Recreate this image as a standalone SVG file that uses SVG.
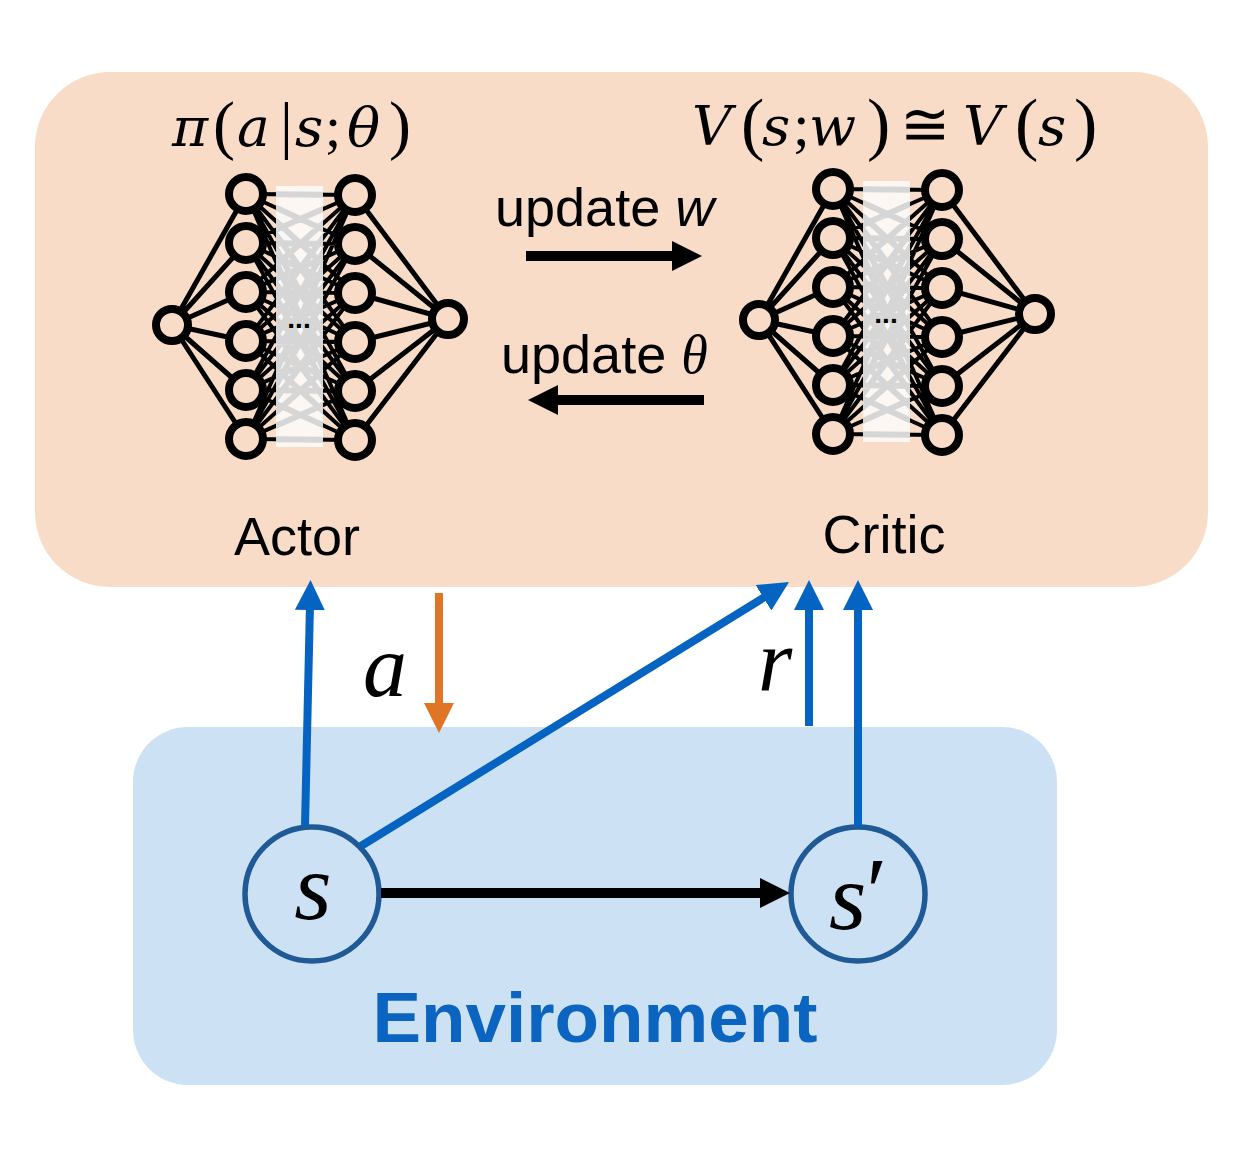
<svg xmlns="http://www.w3.org/2000/svg" xmlns:xlink="http://www.w3.org/1999/xlink" width="1255" height="1155" viewBox="0 0 1255 1155">
<style>
.sans{font-family:"Liberation Sans",Arial,sans-serif;}
.math{font-family:"Liberation Serif","DejaVu Serif",serif;font-style:italic;}
.mi{font-family:"DejaVu Serif",serif;font-style:italic;}
.mp{font-family:"Liberation Serif",serif;font-style:normal;}
.up{font-style:normal;}
.blk{stroke:#000;stroke-width:5;fill:none;}
.nn{fill:#F8DCC7;stroke:#000;stroke-width:8;}
.blue{stroke:#0563C1;stroke-width:8;fill:none;}
.orng{stroke:#E07427;stroke-width:8;fill:none;}
.arr{stroke:#000;stroke-width:10;fill:none;}
.state{fill:#CCE2F4;stroke:#1F5A96;stroke-width:5.5;}
</style>
<defs>
<marker id="mb" markerUnits="userSpaceOnUse" markerWidth="30" markerHeight="30" viewBox="0 0 30 30" refX="6" refY="15" orient="auto"><path d="M0,0L30,15L0,30z" fill="#0563C1"/></marker>
<marker id="mo" markerUnits="userSpaceOnUse" markerWidth="30" markerHeight="30" viewBox="0 0 30 30" refX="6" refY="15" orient="auto"><path d="M0,0L30,15L0,30z" fill="#E07427"/></marker>
<marker id="mk" markerUnits="userSpaceOnUse" markerWidth="30" markerHeight="30" viewBox="0 0 30 30" refX="6" refY="15" orient="auto"><path d="M0,0L30,15L0,30z" fill="#000"/></marker>
<clipPath id="rc"><rect x="30" y="-8" width="47" height="261"/></clipPath>
<path id="mesh" d="M0 0L109 1M0 0L109 50M0 0L109 99M0 0L109 148M0 0L109 197M0 0L109 246M0 49L109 1M0 49L109 50M0 49L109 99M0 49L109 148M0 49L109 197M0 49L109 246M0 98L109 1M0 98L109 50M0 98L109 99M0 98L109 148M0 98L109 197M0 98L109 246M0 147L109 1M0 147L109 50M0 147L109 99M0 147L109 148M0 147L109 197M0 147L109 246M0 196L109 1M0 196L109 50M0 196L109 99M0 196L109 148M0 196L109 197M0 196L109 246M0 245L109 1M0 245L109 50M0 245L109 99M0 245L109 148M0 245L109 197M0 245L109 246"/>
<g id="net">
<path class="blk" d="M-74 131L0 0M-74 131L0 49M-74 131L0 98M-74 131L0 147M-74 131L0 196M-74 131L0 245M109 1L202 125M109 50L202 125M109 99L202 125M109 148L202 125M109 197L202 125M109 246L202 125"/>
<use xlink:href="#mesh" stroke="#000" stroke-width="4" fill="none"/>
<rect x="30" y="-8" width="47" height="261" fill="#FCF7F3"/>
<use xlink:href="#mesh" stroke="#D6D6D6" stroke-width="6" fill="none" clip-path="url(#rc)"/>
<text x="53" y="134" class="sans" font-size="28" font-weight="bold" text-anchor="middle">...</text>
<circle class="nn" cx="-74" cy="131" r="16"/>
<circle class="nn" cx="0" cy="0" r="17"/><circle class="nn" cx="0" cy="49" r="17"/><circle class="nn" cx="0" cy="98" r="17"/><circle class="nn" cx="0" cy="147" r="17"/><circle class="nn" cx="0" cy="196" r="17"/><circle class="nn" cx="0" cy="245" r="17"/>
<circle class="nn" cx="109" cy="1" r="17"/><circle class="nn" cx="109" cy="50" r="17"/><circle class="nn" cx="109" cy="99" r="17"/><circle class="nn" cx="109" cy="148" r="17"/><circle class="nn" cx="109" cy="197" r="17"/><circle class="nn" cx="109" cy="246" r="17"/>
<circle class="nn" cx="202" cy="125" r="16"/>
</g>
</defs>
<g id="agent">
<rect x="35" y="72" width="1173" height="515" rx="75" fill="#F8DCC7"/>
</g>
<g id="environment">
<rect x="133" y="727" width="924" height="358" rx="55" fill="#CCE2F4"/>
<text x="595" y="1042" class="sans" font-size="70" font-weight="bold" fill="#0B64C0" text-anchor="middle" textLength="445" lengthAdjust="spacingAndGlyphs">Environment</text>
</g>
<g id="actor">
<use xlink:href="#net" transform="translate(246,194)"/>
<text y="146" font-size="55"><tspan x="172" class="mi">π</tspan><tspan x="213" class="mp" font-size="66" dy="1">(</tspan><tspan x="237" class="mi" dy="-1">a</tspan><tspan x="280" class="mp" font-size="64">|</tspan><tspan x="295" class="mi">s</tspan><tspan x="325" class="mp" font-size="58">;</tspan><tspan x="347" class="mi">θ</tspan><tspan x="389" class="mp" font-size="66" dy="1">)</tspan></text>
<text x="297" y="555" class="sans" font-size="54" text-anchor="middle">Actor</text>
</g>
<g id="critic">
<use xlink:href="#net" transform="translate(833,189)"/>
<text y="145" font-size="55"><tspan x="692" class="mi">V</tspan><tspan x="741" class="mp" font-size="70" dy="2">(</tspan><tspan x="762" class="mi" dy="-2">s</tspan><tspan x="793" class="mp" font-size="60">;</tspan><tspan x="809" class="mi">w</tspan><tspan x="867" class="mp" font-size="70" dy="2">)</tspan><tspan x="900" font-family="DejaVu Serif" font-size="60" dy="-2">≅</tspan><tspan x="963" class="mi">V</tspan><tspan x="1015" class="mp" font-size="70" dy="2">(</tspan><tspan x="1038" class="mi" dy="-2">s</tspan><tspan x="1074" class="mp" font-size="70" dy="2">)</tspan></text>
<text x="884" y="553" class="sans" font-size="54" text-anchor="middle">Critic</text>
</g>
<g id="state-s">
<circle class="state" cx="312" cy="894" r="67"/>
<text x="313" y="919" class="math" font-size="96" text-anchor="middle">s</text>
</g>
<g id="state-s-prime">
<circle class="state" cx="858" cy="894" r="67"/>
<text x="829" y="929" class="math" font-size="96">s<tspan class="up" dy="-5">′</tspan></text>
</g>
<g id="connectors">
<line class="blue" x1="305" y1="826" x2="310" y2="604" marker-end="url(#mb)"/>
<line class="orng" x1="439" y1="593" x2="439" y2="709" marker-end="url(#mo)"/>
<line class="blue" x1="361" y1="846" x2="768.6" y2="594.6" marker-end="url(#mb)"/>
<line class="blue" x1="809" y1="726" x2="809" y2="604" marker-end="url(#mb)"/>
<line class="blue" x1="858" y1="826" x2="858" y2="604" marker-end="url(#mb)"/>
<line class="arr" x1="526" y1="256" x2="678" y2="256" marker-end="url(#mk)"/>
<line class="arr" x1="704" y1="400" x2="552" y2="400" marker-end="url(#mk)"/>
<line class="arr" x1="381" y1="893" x2="766" y2="893" marker-end="url(#mk)"/>
<text x="495" y="226" class="sans" font-size="54">update <tspan font-style="italic">w</tspan></text>
<text x="501" y="373" class="sans" font-size="54">update <tspan font-family="Liberation Serif" font-style="italic">θ</tspan></text>
<text x="363" y="696" class="math" font-size="88">a</text>
<text x="758" y="690" class="math" font-size="88">r</text>
</g>
</svg>
